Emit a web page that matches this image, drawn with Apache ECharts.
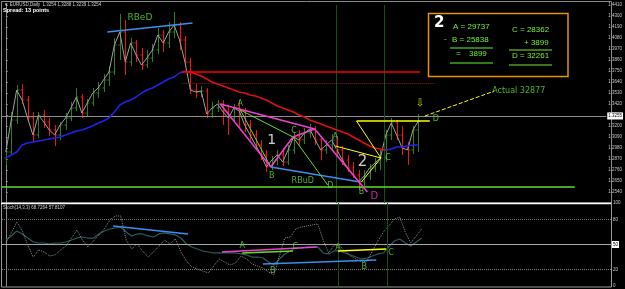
<!DOCTYPE html>
<html><head><meta charset="utf-8">
<script src="https://cdn.jsdelivr.net/npm/echarts@6/dist/echarts.min.js"></script>
<style>html,body{margin:0;padding:0;background:#000}#c{width:625px;height:289px}</style>
</head><body><div id="c"></div>
<script>
// ---- price bars (bar index 0..76) ----
const opens=[1.288,1.294,1.326,1.356,1.346,1.328,1.311,1.331,1.324,1.316,1.311,1.321,1.328,1.338,1.349,1.333,1.343,1.353,1.358,1.366,1.374,1.401,1.414,1.384,1.403,1.391,1.381,1.388,1.396,1.411,1.403,1.414,1.421,1.406,1.384,1.356,1.354,1.355,1.332,1.338,1.342,1.334,1.328,1.338,1.335,1.321,1.311,1.301,1.291,1.279,1.286,1.291,1.284,1.296,1.309,1.306,1.313,1.317,1.306,1.296,1.301,1.306,1.296,1.286,1.278,1.271,1.264,1.270,1.278,1.283,1.288,1.311,1.323,1.311,1.298,1.296,1.316];
const highs=[1.298,1.334,1.361,1.362,1.350,1.334,1.334,1.336,1.328,1.321,1.324,1.333,1.344,1.358,1.352,1.347,1.358,1.364,1.372,1.380,1.408,1.432,1.426,1.408,1.406,1.398,1.396,1.402,1.418,1.416,1.424,1.434,1.424,1.410,1.388,1.362,1.360,1.358,1.344,1.346,1.346,1.341,1.342,1.346,1.338,1.326,1.316,1.306,1.296,1.290,1.296,1.298,1.301,1.314,1.316,1.318,1.322,1.320,1.310,1.306,1.312,1.310,1.300,1.291,1.284,1.276,1.276,1.282,1.288,1.296,1.316,1.328,1.326,1.320,1.304,1.320,1.332];
const lows=[1.281,1.291,1.322,1.342,1.325,1.304,1.308,1.318,1.310,1.300,1.306,1.316,1.325,1.335,1.328,1.329,1.340,1.348,1.354,1.360,1.371,1.386,1.371,1.380,1.384,1.376,1.378,1.384,1.392,1.394,1.398,1.408,1.396,1.380,1.352,1.348,1.349,1.328,1.328,1.334,1.321,1.311,1.324,1.318,1.314,1.306,1.296,1.286,1.274,1.276,1.281,1.280,1.281,1.292,1.300,1.302,1.308,1.301,1.286,1.292,1.296,1.290,1.281,1.274,1.268,1.256,1.260,1.266,1.274,1.276,1.284,1.306,1.306,1.291,1.281,1.292,1.294];
const closes=[1.294,1.326,1.356,1.346,1.328,1.311,1.331,1.324,1.316,1.311,1.321,1.328,1.338,1.349,1.333,1.343,1.353,1.358,1.366,1.374,1.401,1.414,1.384,1.403,1.391,1.381,1.388,1.396,1.411,1.403,1.414,1.421,1.406,1.384,1.356,1.354,1.355,1.332,1.338,1.342,1.334,1.328,1.338,1.335,1.321,1.311,1.301,1.291,1.279,1.286,1.291,1.284,1.296,1.309,1.306,1.313,1.317,1.306,1.296,1.301,1.306,1.296,1.286,1.278,1.271,1.264,1.270,1.278,1.283,1.288,1.311,1.323,1.311,1.298,1.296,1.316,1.325];
const maValues=[1.288,1.291,1.294,1.301,1.303,1.304,1.305,1.306,1.307,1.308,1.309,1.311,1.313,1.315,1.316,1.318,1.320,1.323,1.325,1.328,1.334,1.341,1.344,1.346,1.349,1.353,1.356,1.358,1.361,1.364,1.367,1.369,1.373,1.375,1.374,1.372,1.370,1.367,1.364,1.362,1.360,1.358,1.356,1.354,1.353,1.351,1.350,1.348,1.346,1.343,1.340,1.338,1.336,1.334,1.331,1.329,1.326,1.324,1.322,1.320,1.318,1.316,1.314,1.312,1.309,1.306,1.303,1.300,1.298,1.297,1.296,1.297,1.299,1.299,1.300,1.301,1.301];
const maTurnDown=33, maTurnUp=70;
// ---- oscillator ----
const stochK=[51.8,63.9,77.1,66.3,49.4,34.9,43.4,41.0,36.2,37.4,43.4,48.2,57.8,67.5,55.4,47.0,54.2,61.5,68.7,79.5,84.4,84.4,55.4,44.6,50.6,42.2,34.9,41.0,48.2,55.4,50.6,56.6,41.0,30.1,22.9,20.5,18.1,15.7,24.1,32.5,28.9,25.3,27.7,36.2,32.5,26.5,24.1,21.7,16.9,13.3,36.2,57.8,59.0,68.7,71.1,72.3,73.5,74.7,55.4,39.8,49.4,48.2,42.2,36.2,32.5,28.9,30.1,42.2,54.2,65.1,72.3,80.7,83.1,65.1,51.8,60.3,68.7];
const stochD=[55.4,60.3,66.3,62.7,57.8,53.0,51.8,51.8,50.6,51.8,51.8,53.0,55.4,57.8,59.0,57.8,57.8,62.7,66.3,68.7,69.9,71.1,65.1,60.3,62.7,62.7,60.3,59.0,62.7,63.9,62.7,61.5,57.8,50.6,47.0,44.6,42.2,41.0,39.8,39.8,39.8,39.8,39.8,38.6,37.4,34.9,34.9,33.7,28.9,25.3,32.5,38.6,42.2,45.8,45.8,47.0,47.0,47.0,39.8,38.6,42.2,42.2,39.8,37.4,34.9,32.5,33.7,36.2,38.6,39.8,47.0,54.2,56.6,51.8,48.2,53.0,57.8];
const oscLevels=[80,50,20];
const currentPrice=1.3255;
const verticalMarks=[60.8,69.7];
// ---- drawn objects (bar index, price) ----
const mainSegments=[
 {c:'#3b8ff0',w:1.5,p:[[18.7,1.414],[34.4,1.423]]},
 {c:'#3b8ff0',w:1.5,p:[[48.8,1.279],[65.3,1.264]]},
 {c:'#9a1a1a',w:1,t:'dotted',p:[[32.4,1.363],[79.0,1.363]]},
 {c:'#ff0000',w:1.6,p:[[32.4,1.3745],[76.3,1.3745]]},
 {c:'#66dd22',w:1.5,p:[[-0.7,1.259],[104.8,1.259]]},
 {c:'#66dd22',w:1,p:[[43.2,1.336],[48.8,1.279]]},
 {c:'#66dd22',w:1,p:[[43.2,1.336],[52.9,1.309]]},
 {c:'#66dd22',w:1,p:[[48.8,1.279],[52.9,1.309]]},
 {c:'#66dd22',w:1,p:[[52.9,1.309],[59.3,1.261]]},
 {c:'#f040d0',w:1.5,p:[[39.5,1.342],[48.8,1.279]]},
 {c:'#f040d0',w:1.5,p:[[48.8,1.279],[52.9,1.309]]},
 {c:'#f040d0',w:1.5,p:[[52.9,1.309],[56.9,1.317]]},
 {c:'#f040d0',w:1.5,p:[[39.5,1.342],[56.9,1.317]]},
 {c:'#f040d0',w:1.5,p:[[56.9,1.317],[66.6,1.254]]},
 {c:'#ffff00',w:1,p:[[60.7,1.300],[69.1,1.288]]},
 {c:'#ffff00',w:1,p:[[65.5,1.264],[69.1,1.288]]},
 {c:'#ffff00',w:1,p:[[64.6,1.325],[69.1,1.288]]},
 {c:'#ffff00',w:1.5,p:[[64.6,1.325],[78.1,1.325]]},
 {c:'#ffff00',w:1,t:'dashed',p:[[77.2,1.330],[90.0,1.355]]}
];
const oscSegments=[
 {c:'#3b8ff0',w:1.5,p:[[19.6,72.3],[33.3,62.7]]},
 {c:'#3b8ff0',w:1.5,p:[[47.0,26.5],[67.7,31.3]]},
 {c:'#f040d0',w:1.5,p:[[39.5,41.0],[56.9,47.0]]},
 {c:'#66dd22',w:1.5,p:[[43.2,39.8],[52.5,42.2]]},
 {c:'#ffff00',w:1.5,p:[[60.7,42.2],[69.5,44.6]]}
];
const GREEN='#66dd33';
const mainLabels=[
 {t:'RBeD',x:24.7,y:1.428,c:GREEN,s:9},
 {t:'A',x:43.2,y:1.342,c:GREEN,s:8},{t:'B',x:49.0,y:1.270,c:GREEN,s:8},
 {t:'C',x:53.1,y:1.315,c:GREEN,s:8},{t:'D',x:59.8,y:1.260,c:GREEN,s:8},
 {t:'1',x:49.0,y:1.306,c:'#ffffff',s:14},{t:'RBuD',x:54.7,y:1.265,c:GREEN,s:8},
 {t:'A',x:60.7,y:1.309,c:GREEN,s:8},{t:'B',x:65.5,y:1.254,c:GREEN,s:8},
 {t:'C',x:70.4,y:1.288,c:GREEN,s:8},{t:'D',x:79.2,y:1.327,c:GREEN,s:8},
 {t:'2',x:65.7,y:1.284,c:'#ffffff',s:15},{t:'D',x:67.9,y:1.250,c:'#ff33cc',s:10},
 {t:'\u21e9',x:76.3,y:1.343,c:'#ffff00',s:10},
 {t:'Actual 32877',x:89.6,y:1.355,c:GREEN,s:8,left:true}
];
const oscLabels=[
 {t:'A',x:43.2,y:48.2},{t:'C',x:52.9,y:47.0},{t:'B',x:48.8,y:18.1},
 {t:'A',x:60.7,y:45.8},{t:'B',x:65.5,y:22.9},{t:'C',x:70.4,y:39.8}
];

const UP='#2f7d24', DOWN='#f01414';
const barData=closes.map((c,i)=>[i,opens[i],highs[i],lows[i],c]);
function renderBar(params, api){
  const x=api.value(0),o=api.value(1),h=api.value(2),l=api.value(3),c=api.value(4);
  const ph=api.coord([x,h]),pl=api.coord([x,l]),po=api.coord([x,o]),pc=api.coord([x,c]);
  const col=c>=o?UP:DOWN; const cx=Math.round(ph[0])+0.5;
  return {type:'group',children:[
    {type:'line',shape:{x1:cx,y1:ph[1],x2:cx,y2:pl[1]},style:{stroke:col,lineWidth:1}},
    {type:'line',shape:{x1:cx-2,y1:po[1],x2:cx,y2:po[1]},style:{stroke:col,lineWidth:1}},
    {type:'line',shape:{x1:cx,y1:pc[1],x2:cx+2,y2:pc[1]},style:{stroke:col,lineWidth:1}}
  ]};
}
const maBlue1=maValues.map((v,i)=>[i,v]).filter(d=>d[0]<=maTurnDown);
const maRed=maValues.map((v,i)=>[i,v]).filter(d=>d[0]>=maTurnDown&&d[0]<=maTurnUp);
const maBlue2=maValues.map((v,i)=>[i,v]).filter(d=>d[0]>=maTurnUp);
function segs(list){return list.map(s=>({coords:s.p,lineStyle:{color:s.c,width:s.w,type:s.t||'solid',opacity:1}}));}
function labs(list,def){return list.map(l=>({value:[l.x,l.y],label:{show:true,formatter:l.t,color:l.c||def.c,fontSize:l.s||def.s,position:l.left?'right':'inside',distance:0,fontFamily:'DejaVu Sans, Liberation Sans, sans-serif'}}));}

const chart=echarts.init(document.getElementById('c'));
chart.setOption({
 backgroundColor:'#000',animation:false,
 textStyle:{fontFamily:'Liberation Sans, Arial, sans-serif'},
 grid:[{left:2,right:14,top:5,height:198},{left:2,right:14,top:203,height:83}],
 xAxis:[{type:'value',gridIndex:0,min:-0.7,max:110.6,show:false},{type:'value',gridIndex:1,min:-0.7,max:110.6,show:false}],
 yAxis:[
  {type:'value',gridIndex:0,position:'right',min:1.243,max:1.441,interval:0.011,
   axisLine:{show:true,lineStyle:{color:'#8a8a8a'}},axisTick:{show:true,length:2,lineStyle:{color:'#8a8a8a'}},
   axisLabel:{fontSize:4.5,color:'#c8c8c8',margin:2,showMinLabel:false,formatter:v=>v.toFixed(4)},splitLine:{show:false}},
  {type:'value',gridIndex:1,position:'right',min:0,max:100,interval:10,
   axisLine:{show:true,lineStyle:{color:'#8a8a8a'}},axisTick:{show:false},
   axisLabel:{fontSize:4.5,color:'#c8c8c8',margin:2,formatter:v=>(v===100||v===80||v===20||v===0)?String(v):''},splitLine:{show:false}}
 ],
 graphic:[
  {type:'rect',shape:{x:1.5,y:1.5,width:610,height:201.5},style:{fill:null,stroke:'#8a8a8a',lineWidth:1},z:1},
  {type:'rect',shape:{x:1.5,y:203,width:610,height:84},style:{fill:null,stroke:'#9a9a9a',lineWidth:1},z:1},
  {type:'line',shape:{x1:1,y1:203.5,x2:611,y2:203.5},style:{stroke:'#ffffff',lineWidth:1.5},z:2},
  {type:'text',left:4,top:2,style:{text:'\u25bc EURUSD,Daily  1.3254 1.3288 1.3239 1.3254',fill:'#d0d0d0',fontSize:4.5,fontFamily:'Liberation Sans'},z:50},
  {type:'text',left:3,top:7,style:{text:'Spread: 13 points',fill:'#ffffff',fontSize:5.5,fontWeight:'bold',fontFamily:'Liberation Sans'},z:50},
  {type:'text',left:3,top:205,style:{text:'Stoch(14,3,3) 68.7264 57.8107',fill:'#d0d0d0',fontSize:4.5,fontFamily:'Liberation Sans'},z:50},
  {type:'rect',shape:{x:428.5,y:13.5,width:139.5,height:63},style:{fill:'#000',stroke:'#e69500',lineWidth:1.5},z:40},
  {type:'text',x:434,y:16,style:{text:'2',fill:'#ffffff',fontSize:15,fontWeight:'bold',fontFamily:'DejaVu Sans'},z:41},
  {type:'text',x:453,y:23,style:{text:'A = 29737',fill:'#77ee33',fontSize:8,fontFamily:'Liberation Sans'},z:41},
  {type:'text',x:444,y:35,style:{text:'-',fill:'#77ee33',fontSize:8,fontFamily:'Liberation Sans'},z:41},
  {type:'text',x:452,y:36,style:{text:'B = 25838',fill:'#77ee33',fontSize:8,fontFamily:'Liberation Sans'},z:41},
  {type:'line',shape:{x1:450,y1:48,x2:493,y2:48},style:{stroke:'#2f7a1a',lineWidth:2},z:41},
  {type:'text',x:456,y:50,style:{text:'=',fill:'#77ee33',fontSize:8,fontFamily:'Liberation Sans'},z:41},
  {type:'text',x:469,y:50,style:{text:'3899',fill:'#77ee33',fontSize:8,fontFamily:'Liberation Sans'},z:41},
  {type:'line',shape:{x1:450,y1:63,x2:493,y2:63},style:{stroke:'#2f7a1a',lineWidth:2},z:41},
  {type:'text',x:512,y:26,style:{text:'C = 28362',fill:'#77ee33',fontSize:8,fontFamily:'Liberation Sans'},z:41},
  {type:'text',x:524,y:39,style:{text:'+ 3899',fill:'#77ee33',fontSize:8,fontFamily:'Liberation Sans'},z:41},
  {type:'line',shape:{x1:509,y1:50,x2:552,y2:50},style:{stroke:'#77ee33',lineWidth:1.2},z:41},
  {type:'text',x:512,y:52,style:{text:'D = 32261',fill:'#77ee33',fontSize:8,fontFamily:'Liberation Sans'},z:41},
  {type:'line',shape:{x1:509,y1:65,x2:552,y2:65},style:{stroke:'#77ee33',lineWidth:1.2},z:41}
 ],
 series:[
  {type:'line',xAxisIndex:0,yAxisIndex:0,data:[],silent:true,
   markLine:{silent:true,symbol:'none',animation:false,data:[
     {yAxis:currentPrice,lineStyle:{color:'#8c8c8c',width:1,type:'solid'},label:{show:true,position:'end',distance:1,formatter:currentPrice.toFixed(4),backgroundColor:'#ffffff',color:'#000',fontSize:4.5,padding:[1,1]}},
     ...verticalMarks.map(v=>({xAxis:v,lineStyle:{color:'#1c4d1c',width:1,type:'solid'},label:{show:false}}))
   ]},z:1},
  {type:'custom',xAxisIndex:0,yAxisIndex:0,renderItem:renderBar,data:barData,encode:{x:0,y:[1,2,3,4]},z:3},
  {type:'line',xAxisIndex:0,yAxisIndex:0,data:closes.map((c,i)=>[i,c]),showSymbol:false,lineStyle:{color:'#a0a0a0',width:1},z:4},
  {type:'line',xAxisIndex:0,yAxisIndex:0,data:maBlue1,showSymbol:false,lineStyle:{color:'#2222ee',width:1.5},z:5},
  {type:'line',xAxisIndex:0,yAxisIndex:0,data:maRed,showSymbol:false,lineStyle:{color:'#e01010',width:1.5},z:5},
  {type:'line',xAxisIndex:0,yAxisIndex:0,data:maBlue2,showSymbol:false,lineStyle:{color:'#2222ee',width:1.5},z:5},
  {type:'lines',coordinateSystem:'cartesian2d',xAxisIndex:0,yAxisIndex:0,data:segs(mainSegments),polyline:false,silent:true,z:6},
  {type:'scatter',xAxisIndex:0,yAxisIndex:0,symbolSize:0,data:labs(mainLabels,{}),z:20,silent:true},
  // oscillator
  {type:'line',xAxisIndex:1,yAxisIndex:1,data:[],silent:true,
   markLine:{silent:true,symbol:'none',animation:false,data:[
     ...oscLevels.map(v=>({yAxis:v,lineStyle:{color:v===50?'#a8a8a8':'#7a7a7a',width:1,type:v===50?'solid':'dotted'},
        label:{show:v===50,position:'end',distance:1,formatter:String(v),backgroundColor:'#ffffff',color:'#000',fontSize:4.5,padding:[1,1]}})),
     ...verticalMarks.map(v=>({xAxis:v,lineStyle:{color:'#1c4d1c',width:1,type:'solid'},label:{show:false}}))
   ]},z:1},
  {type:'line',xAxisIndex:1,yAxisIndex:1,data:stochD.map((v,i)=>[i,v]),showSymbol:false,lineStyle:{color:'#2a5c5c',width:1.2},z:3},
  {type:'line',xAxisIndex:1,yAxisIndex:1,data:stochK.map((v,i)=>[i,v]),showSymbol:false,lineStyle:{color:'#8c8c8c',width:1,type:'dotted'},z:4},
  {type:'lines',coordinateSystem:'cartesian2d',xAxisIndex:1,yAxisIndex:1,data:segs(oscSegments),polyline:false,silent:true,z:6},
  {type:'scatter',xAxisIndex:1,yAxisIndex:1,symbolSize:0,data:labs(oscLabels,{c:GREEN,s:8}),z:20,silent:true}
 ]
});
</script></body></html>
